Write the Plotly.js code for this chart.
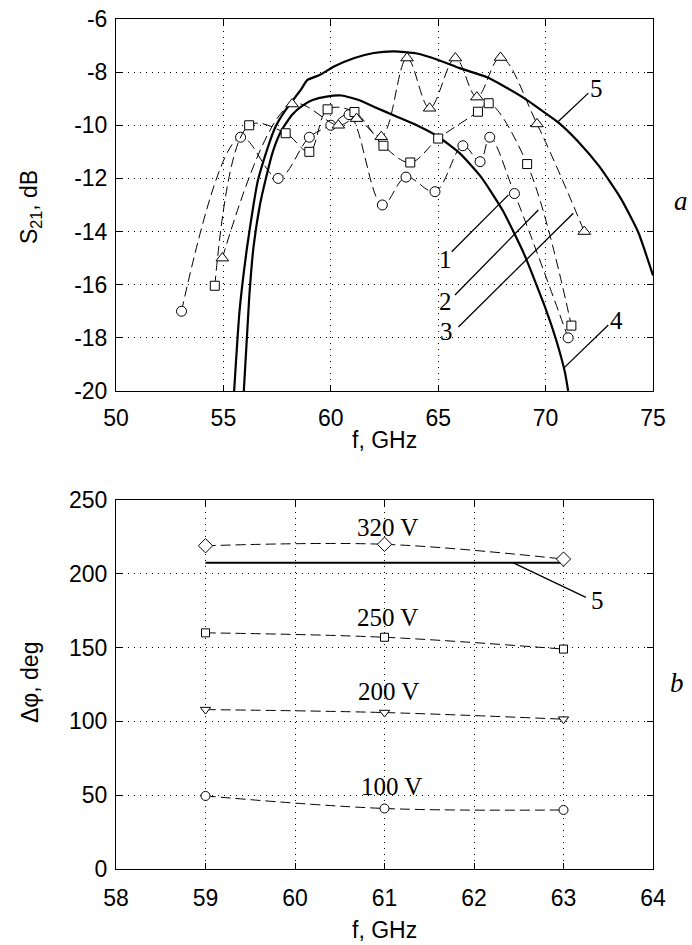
<!DOCTYPE html>
<html>
<head>
<meta charset="utf-8">
<script src="https://cdn.plot.ly/plotly-3.0.1.min.js"></script>
<style>html,body{margin:0;padding:0;background:#fff}#chart{width:692px;height:945px}</style>
</head>
<body>
<div id="chart"></div>
<script>
// ---------- panel a: S21 vs f ----------
const c1f = [53.05, 55.8, 57.55, 59.0, 60.0, 60.85, 62.4, 63.5, 64.85, 66.15, 66.95, 67.4, 68.55, 71.05];
const c1s = [-17.0, -10.45, -12.0, -10.45, -10.0, -9.6, -13.0, -11.95, -12.5, -10.77, -11.37, -10.45, -12.57, -18.0];

const c2f = [54.6, 56.2, 57.9, 59.0, 59.85, 61.1, 62.45, 63.7, 65.0, 66.85, 67.35, 69.14, 71.2];
const c2s = [-16.04, -10.0, -10.3, -11.0, -9.4, -9.5, -10.77, -11.4, -10.5, -9.49, -9.17, -11.46, -17.54];

const c3f = [54.95, 58.2, 60.35, 61.2, 62.35, 63.55, 64.6, 65.8, 66.8, 67.9, 69.6, 71.8];
const c3s = [-15.0, -9.2, -10.0, -9.75, -10.43, -7.47, -9.36, -7.47, -8.94, -7.45, -9.95, -14.0];

const c4f = [55.95, 56.2, 56.4, 56.7, 56.96, 57.3, 57.7, 58.2, 58.7, 59.15, 59.8, 60.5, 61.3, 62.0, 63.0, 64.0, 65.0, 66.0, 67.0, 68.0, 69.0, 70.0, 70.5, 70.9, 71.05];
const c4s = [-20, -16.5, -14.6, -13.0, -12.06, -11.0, -10.2, -9.6, -9.25, -9.05, -8.92, -8.88, -9.05, -9.3, -9.65, -10.0, -10.43, -11.05, -11.95, -13.2, -14.85, -16.9, -18.1, -19.3, -20];

const c5f = [55.5, 55.75, 56.1, 56.4, 56.6, 57.0, 57.4, 57.75, 58.1, 58.6, 58.9, 59.5, 60.15, 61.1, 62.0, 62.95, 64.0, 65.0, 66.0, 67.3, 68.0, 69.0, 70.0, 70.6, 71.5, 72.5, 73.5, 74.3, 75.0];
const c5s = [-20, -17.0, -14.6, -13.0, -12.1, -11.0, -10.1, -9.6, -9.2, -8.67, -8.3, -8.1, -7.79, -7.47, -7.28, -7.22, -7.3, -7.54, -7.85, -8.2, -8.5, -8.98, -9.55, -9.9, -10.6, -11.55, -12.75, -14.0, -15.65];

const curveLabels = ['1', '2', '3', '4', '5'];
const xTicksA = [50, 55, 60, 65, 70, 75];
const yTicksA = [-20, -18, -16, -14, -12, -10, -8, -6];
const yTickTextA = ['-20', '-18', '-16', '-14', '-12', '-10', '-8', '-6'];

// ---------- panel b: phase shift vs f ----------
const freqB = [59, 61, 63];
const v320 = [219, 220, 210];
const v250 = [160, 157, 149];
const v200 = [108, 106, 101.5];
const v100 = [49.5, 41, 40];
const c5bf = [59, 63];
const c5bp = [207.5, 207.5];
const voltLabels = ['320 V', '250 V', '200 V', '100 V'];
const xTicksB = [58, 59, 60, 61, 62, 63, 64];
const yTicksB = [0, 50, 100, 150, 200, 250];

const dashed = '10px,5px';
const mk = (sym, size) => ({symbol: sym, size: size, color: '#fff', line: {color: '#000', width: 1}});

const traces = [
  {x: c5f, y: c5s, xaxis: 'x', yaxis: 'y', mode: 'lines', line: {color: '#000', width: 2.2, shape: 'spline', smoothing: 0.5}},
  {x: c4f, y: c4s, xaxis: 'x', yaxis: 'y', mode: 'lines', line: {color: '#000', width: 2.2, shape: 'spline', smoothing: 0.5}},
  {x: c1f, y: c1s, xaxis: 'x', yaxis: 'y', mode: 'lines+markers', line: {color: '#000', width: 1, dash: dashed, shape: 'spline'}, marker: mk('circle', 10)},
  {x: c2f, y: c2s, xaxis: 'x', yaxis: 'y', mode: 'lines+markers', line: {color: '#000', width: 1, dash: dashed, shape: 'spline'}, marker: mk('square', 9)},
  {x: c3f, y: c3s, xaxis: 'x', yaxis: 'y', mode: 'lines+markers', line: {color: '#000', width: 1, dash: dashed, shape: 'spline'}, marker: mk('triangle-up', 11)},

  {x: c5bf, y: c5bp, xaxis: 'x2', yaxis: 'y2', mode: 'lines', line: {color: '#000', width: 2}},
  {x: freqB, y: v320, xaxis: 'x2', yaxis: 'y2', mode: 'lines+markers', line: {color: '#000', width: 1, dash: dashed, shape: 'spline'}, marker: mk('diamond', 11)},
  {x: freqB, y: v250, xaxis: 'x2', yaxis: 'y2', mode: 'lines+markers', line: {color: '#000', width: 1, dash: dashed, shape: 'spline'}, marker: mk('square', 8)},
  {x: freqB, y: v200, xaxis: 'x2', yaxis: 'y2', mode: 'lines+markers', line: {color: '#000', width: 1, dash: dashed, shape: 'spline'}, marker: mk('triangle-down', 9)},
  {x: freqB, y: v100, xaxis: 'x2', yaxis: 'y2', mode: 'lines+markers', line: {color: '#000', width: 1, dash: dashed, shape: 'spline'}, marker: mk('circle', 9)}
];

const tickFont = {family: 'Liberation Sans, Arial, sans-serif', size: 23, color: '#000'};
const serif = {family: 'Liberation Serif, Times New Roman, serif', size: 25, color: '#000'};

const axisCommon = {
  showline: true, mirror: 'ticks', linecolor: '#000', linewidth: 1,
  ticks: 'inside', ticklen: 6, tickcolor: '#000', tickwidth: 1,
  showgrid: true, gridcolor: '#000', gridwidth: 1, griddash: '1px,5px',
  zeroline: false, tickfont: tickFont, fixedrange: true
};

const annotations = [
  {x: 65.32, y: -15.07, xref: 'x', yref: 'y', text: curveLabels[0]},
  {x: 65.32, y: -16.64, xref: 'x', yref: 'y', text: curveLabels[1]},
  {x: 65.40, y: -17.78, xref: 'x', yref: 'y', text: curveLabels[2]},
  {x: 73.30, y: -17.33, xref: 'x', yref: 'y', text: curveLabels[3]},
  {x: 72.38, y: -8.60, xref: 'x', yref: 'y', text: curveLabels[4]},
  {x: 61.03, y: 231.5, xref: 'x2', yref: 'y2', text: voltLabels[0]},
  {x: 61.03, y: 170.7, xref: 'x2', yref: 'y2', text: voltLabels[1]},
  {x: 61.05, y: 120.5, xref: 'x2', yref: 'y2', text: voltLabels[2]},
  {x: 61.08, y: 56.2, xref: 'x2', yref: 'y2', text: voltLabels[3]},
  {x: 63.38, y: 182.2, xref: 'x2', yref: 'y2', text: curveLabels[4]}
].map(a => Object.assign({showarrow: false, font: serif, xanchor: 'center', yanchor: 'middle'}, a));

const sans = {family: 'Liberation Sans, Arial, sans-serif', size: 23, color: '#000'};
const ital = {family: 'Liberation Serif, serif', size: 27, color: '#000'};
const px2x = p => (p - 116) / 537;
const px2y = p => 1 - (p - 19) / 850;
annotations.push(
  {xref: 'paper', yref: 'paper', x: px2x(681), y: px2y(201), text: '<i>a</i>', showarrow: false, font: ital},
  {xref: 'paper', yref: 'paper', x: px2x(677), y: px2y(683), text: '<i>b</i>', showarrow: false, font: ital},
  {xref: 'paper', yref: 'paper', x: px2x(384), y: px2y(440), text: 'f, GHz', showarrow: false, font: sans},
  {xref: 'paper', yref: 'paper', x: px2x(384), y: px2y(930), text: 'f, GHz', showarrow: false, font: sans},
  {xref: 'paper', yref: 'paper', x: px2x(30), y: px2y(207), text: 'S<sub>21</sub>, dB', textangle: -90, showarrow: false, font: sans},
  {xref: 'paper', yref: 'paper', x: px2x(30), y: px2y(683), text: 'Δφ, deg', textangle: -90, showarrow: false, font: sans}
);
annotations.forEach(a => { a.xanchor = 'center'; a.yanchor = 'middle'; });

const ln = (xr, yr, x0, y0, x1, y1) => ({type: 'line', xref: xr, yref: yr, x0: x0, y0: y0, x1: x1, y1: y1, line: {color: '#000', width: 1.3}});
const shapes = [
  ln('x', 'y', 65.63, -14.76, 68.27, -12.62),
  ln('x', 'y', 65.78, -16.39, 69.66, -13.19),
  ln('x', 'y', 65.94, -17.59, 71.29, -13.31),
  ln('x', 'y', 70.82, -19.16, 72.92, -17.52),
  ln('x', 'y', 70.59, -9.86, 71.99, -8.79),
  ln('x2', 'y2', 62.44, 207.4, 63.25, 184.0)
];

const layout = {
  width: 692, height: 945,
  margin: {l: 116, r: 39, t: 19, b: 76},
  paper_bgcolor: '#fff', plot_bgcolor: '#fff',
  showlegend: false,
  xaxis: Object.assign({}, axisCommon, {domain: [0, 1], anchor: 'y', range: [50, 75], tickvals: xTicksA, ticklabelstandoff: 6}),
  yaxis: Object.assign({}, axisCommon, {domain: [0.5624, 1], anchor: 'x', range: [-20, -6], tickvals: yTicksA, ticktext: yTickTextA, ticklabelstandoff: 3}),
  xaxis2: Object.assign({}, axisCommon, {domain: [0, 1], anchor: 'y2', range: [58, 64], tickvals: xTicksB, ticklabelstandoff: 8}),
  yaxis2: Object.assign({}, axisCommon, {domain: [0, 0.4341], anchor: 'x2', range: [0, 250], tickvals: yTicksB, ticklabelstandoff: 3}),
  annotations: annotations,
  shapes: shapes
};

Plotly.newPlot('chart', traces, layout, {staticPlot: true, displayModeBar: false});
</script>
</body>
</html>
